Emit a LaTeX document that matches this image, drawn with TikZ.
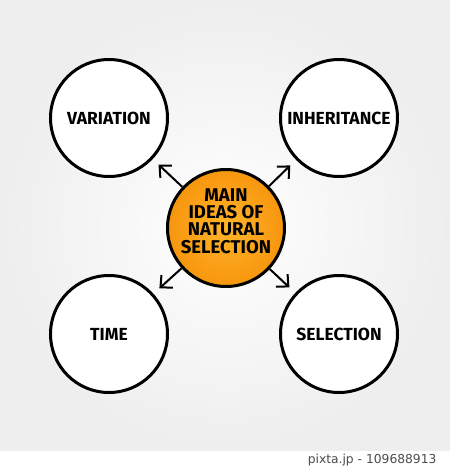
\documentclass[tikz,border=0pt]{standalone}
\usepackage{fontspec}
\newfontfamily\markerfont{Fira Sans}
\newfontfamily\tagfont{DejaVu Sans}
\usetikzlibrary{arrows.meta}
\definecolor{hubin}{HTML}{FFB42A}
\definecolor{hubout}{HTML}{F7960E}
\definecolor{bgedge}{HTML}{EEEEEE}

\begin{document}
\begin{tikzpicture}[
  x=1pt,y=-1pt,>={Straight Barb[length=9pt,width=17pt]},
  every node/.style={font=\markerfont\bfseries\fontsize{17.5}{20}\selectfont},
  idea/.style={circle,draw=black,line width=3pt,fill=white,minimum size=117pt,inner sep=0pt},
  hub/.style={circle,draw=black,line width=3pt,inner color=hubin,outer color=hubout,minimum size=117pt,inner sep=0pt},
  link/.style={->,line width=2pt,shorten >=8pt}
]
  % Canvas and stock strip
  \useasboundingbox (0,0) rectangle (450,469);
  \shade[inner color=white,outer color=bgedge] (0,0) rectangle (450,451);
  \fill[white] (0,451) rectangle (450,469);
  \node[font=\tagfont\fontsize{12.3}{14}\selectfont,text=black!70,anchor=east] (tag) at (440,460) {pixta.jp - 109688913};

  % Centre idea (text sits a little above the middle)
  \node[hub] (main) at (226,228) {};
  \node[align=center,font=\markerfont\bfseries\fontsize{18.5}{17.3}\selectfont] (mainlbl) at ([yshift=7pt]main.center) {MAIN\\IDEAS OF\\NATURAL\\SELECTION};

  % Four outer ideas
  \node[idea] (var) at (109,118) {VARIATION};
  \node[idea] (inh) at (339,118) {INHERITANCE};
  \node[idea] (tim) at (109,334) {TIME};
  \node[idea] (sel) at (339,334) {SELECTION};

  % Arrows out of the centre
  \draw[link] (main) -- (var);
  \draw[link] (main) -- (inh);
  \draw[link] (main) -- (tim);
  \draw[link] (main) -- (sel);
\end{tikzpicture}
\end{document}
